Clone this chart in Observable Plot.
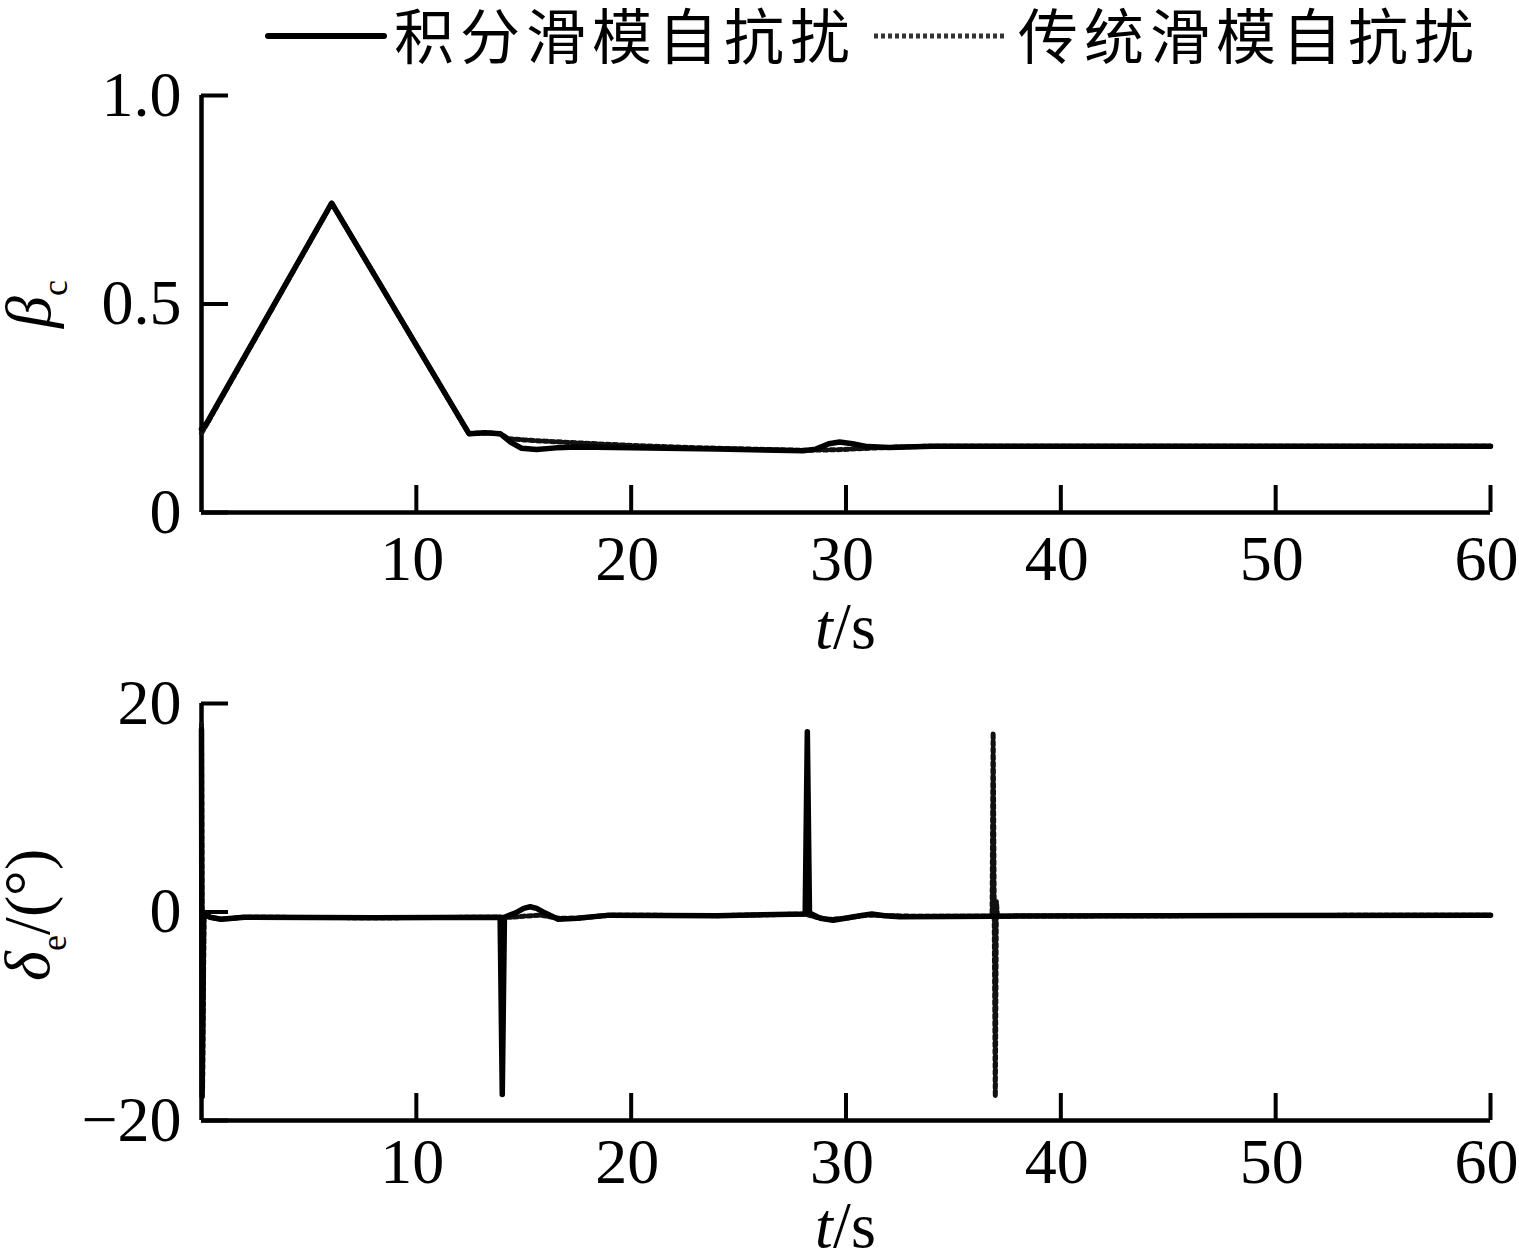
<!DOCTYPE html>
<html>
<head>
<meta charset="utf-8">
<script src="https://cdn.jsdelivr.net/npm/d3@7"></script>
<script src="https://cdn.jsdelivr.net/npm/@observablehq/plot@0.6"></script>
<style>
  @font-face {
    font-family: "LegendCJK";
    src: local("Noto Sans CJK SC Regular"), local("NotoSansCJKsc-Regular"), local("Noto Sans CJK SC");
    ascent-override: 92%;
    descent-override: 14%;
    line-gap-override: 0%;
  }
  @font-face {
    font-family: "TitleSerif";
    font-style: normal;
    src: local("Liberation Serif"), local("LiberationSerif"), local("Liberation Serif Regular");
    ascent-override: 72%;
    descent-override: 8%;
    line-gap-override: 0%;
  }
  @font-face {
    font-family: "TitleSerif";
    font-style: italic;
    src: local("Liberation Serif Italic"), local("LiberationSerif-Italic");
    ascent-override: 72%;
    descent-override: 8%;
    line-gap-override: 0%;
  }
  html, body { margin: 0; padding: 0; background: #fff; }
  #wrap { width: 1519px; height: 1254px; position: relative; overflow: hidden; }
  #legend { position: absolute; left: 0; top: 0; width: 1519px; height: 80px; z-index: 2;
            font-family: "LegendCJK", "Noto Sans CJK SC", sans-serif; }
  #legend span.t { position: absolute; top: 4px; font-size: 60px; line-height: 64px; letter-spacing: 6px; color: #000; white-space: nowrap; }
  #legend svg { position: absolute; }
  #p1 { position: absolute; left: 0; top: 50px; z-index: 1; }
  #p2 { position: absolute; left: 0; top: 660px; z-index: 1; }
  svg.plot { display: block; overflow: visible; }
</style>
</head>
<body>
<div id="wrap">
  <div id="legend"></div>
  <div id="p1"></div>
  <div id="p2"></div>
</div>
<script>
// ---- data ----
const seriesNames = ["积分滑模自抗扰", "传统滑模自抗扰"];

// top plot: beta_c
const tTopA = [0, 0.25, 6.06, 12.45, 13.2, 13.9, 14.4, 14.9, 15.6, 16.5, 17.5, 20, 24, 28, 28.6, 29.2, 29.7, 30.3, 31, 32, 34, 40, 50, 60];
const bTopA = [0.20, 0.215, 0.742, 0.189, 0.191, 0.189, 0.168, 0.154, 0.151, 0.155, 0.157, 0.155, 0.152, 0.148, 0.152, 0.165, 0.169, 0.165, 0.158, 0.156, 0.159, 0.159, 0.159, 0.159];
const tTopB = [0, 0.25, 6.06, 12.45, 13.2, 13.9, 14.3, 15, 16, 17.5, 19.5, 22, 24, 28, 29, 29.8, 30.6, 31.5, 32.5, 34, 40, 50, 60];
const bTopB = [0.19, 0.212, 0.742, 0.189, 0.191, 0.189, 0.177, 0.174, 0.171, 0.167, 0.162, 0.157, 0.154, 0.149, 0.15, 0.151, 0.153, 0.155, 0.157, 0.159, 0.159, 0.159, 0.159];

// bottom plot: delta_e
const tBotA = [0, 0.03, 0.1, 0.4, 0.9, 2, 8, 13.9, 14.0, 14.1, 14.6, 15.0, 15.3, 15.6, 16.0, 16.6, 17.5, 19, 24, 28.1, 28.2, 28.3, 28.8, 29.4, 30.1, 30.8, 31.2, 31.8, 32.5, 36.9, 45, 60];
const dBotA = [17.5, -17.7, -0.2, -0.5, -0.7, -0.5, -0.55, -0.5, -17.5, -0.5, -0.1, 0.35, 0.5, 0.35, -0.1, -0.7, -0.6, -0.3, -0.35, -0.2, 17.3, -0.1, -0.6, -0.8, -0.55, -0.3, -0.2, -0.35, -0.45, -0.4, -0.35, -0.3];
const tBotB = [0, 0.05, 0.12, 0.4, 0.9, 2, 8, 13.9, 14.4, 15, 15.8, 16.6, 17.5, 19, 24, 28.1, 28.6, 29.2, 30, 31, 33, 36.8, 36.85, 36.95, 37.0, 37.05, 45, 60];
const dBotB = [18, -17, 0, -0.5, -0.7, -0.5, -0.55, -0.5, -0.5, -0.4, -0.3, -0.6, -0.6, -0.3, -0.35, -0.2, -0.5, -0.7, -0.6, -0.3, -0.4, -0.4, 17.2, -17.7, 1, -0.4, -0.35, -0.3];

const xTicks = [10, 20, 30, 40, 50, 60];
const yTicksTop = [0, 0.5, 1.0];
const yTicksBot = [-20, 0, 20];

// ---- styles ----
const SERIF = "Liberation Serif, Times New Roman, serif";
const TITLE = "TitleSerif, Liberation Serif, serif";
const solidStyle = {stroke: "#000", strokeWidth: 5.5, curve: "linear", strokeLinejoin: "round"};
const dotStyle = {stroke: "#111", strokeWidth: 5, strokeDasharray: "4,3", curve: "linear"};

const zip = (ts, vs) => ts.map((t, i) => ({t, v: vs[i]}));

// ---- legend ----
const leg = d3.select("#legend");
const sw1 = leg.append("svg").attr("width", 124).attr("height", 20).style("left", "264px").style("top", "26px");
sw1.append("line").attr("x1", 4).attr("x2", 120).attr("y1", 10).attr("y2", 10).attr("stroke", "#000").attr("stroke-width", 6).attr("stroke-linecap", "round");
leg.append("span").attr("class", "t").style("left", "394px").text(seriesNames[0]);
const sw2 = leg.append("svg").attr("width", 134).attr("height", 20).style("left", "872px").style("top", "26px");
sw2.append("line").attr("x1", 2).attr("x2", 132).attr("y1", 10).attr("y2", 10).attr("stroke", "#333").attr("stroke-width", 5).attr("stroke-dasharray", "4,3");
leg.append("span").attr("class", "t").style("left", "1018px").text(seriesNames[1]);

// ---- top plot ----
const p1 = Plot.plot({
  width: 1519, height: 610,
  marginLeft: 201, marginRight: 29, marginTop: 45, marginBottom: 148,
  style: {fontFamily: SERIF, background: "transparent", color: "#000", overflow: "visible"},
  className: "plot",
  x: {domain: [0, 60], label: null},
  y: {domain: [0, 1], label: null},
  marks: [
    Plot.axisX({ticks: xTicks, tickSize: -27, strokeWidth: 4, tickFormat: () => "", label: null}),
    Plot.axisX({ticks: xTicks, tickSize: 0, tickPadding: 22, fontSize: 64, dx: -4, label: null}),
    Plot.axisY({ticks: yTicksTop, tickSize: -27, strokeWidth: 4, tickFormat: () => "", label: null}),
    Plot.axisY({ticks: yTicksTop, tickSize: 0, tickPadding: 20, fontSize: 64, label: null,
      tickFormat: d => d === 0 ? "0" : d.toFixed(1)}),
    Plot.ruleY([0], {stroke: "#000", strokeWidth: 4.5}),
    Plot.ruleX([0], {stroke: "#000", strokeWidth: 4.5}),
    Plot.line(zip(tTopB, bTopB), {x: "t", y: "v", ...dotStyle}),
    Plot.line(zip(tTopA, bTopA), {x: "t", y: "v", ...solidStyle})
  ]
});
document.getElementById("p1").append(p1);

// ---- bottom plot ----
const p2 = Plot.plot({
  width: 1519, height: 594,
  marginLeft: 201, marginRight: 29, marginTop: 43, marginBottom: 134,
  style: {fontFamily: SERIF, background: "transparent", color: "#000", overflow: "visible"},
  className: "plot",
  x: {domain: [0, 60], label: null},
  y: {domain: [-20, 20], label: null},
  marks: [
    Plot.axisX({ticks: xTicks, tickSize: -27, strokeWidth: 4, tickFormat: () => "", label: null}),
    Plot.axisX({ticks: xTicks, tickSize: 0, tickPadding: 17, fontSize: 64, dx: -4, label: null}),
    Plot.axisY({ticks: yTicksBot, tickSize: -27, strokeWidth: 4, tickFormat: () => "", label: null}),
    Plot.axisY({ticks: yTicksBot, tickSize: 0, tickPadding: 20, fontSize: 64, label: null,
      tickFormat: d => d < 0 ? "\u2212" + Math.abs(d) : String(d)}),
    Plot.ruleY([-20], {stroke: "#000", strokeWidth: 4.5}),
    Plot.ruleX([0], {stroke: "#000", strokeWidth: 4.5}),
    Plot.line(zip(tBotB, dBotB), {x: "t", y: "v", ...dotStyle}),
    Plot.line(zip(tBotA, dBotA), {x: "t", y: "v", ...solidStyle})
  ]
});
document.getElementById("p2").append(p2);

// ---- axis titles with sub/italic parts ----
function xTitle(svg, x, y) {
  const t = d3.select(svg).append("text")
    .attr("x", x).attr("y", y).attr("text-anchor", "middle")
    .attr("font-family", TITLE).attr("font-size", 64).attr("fill", "#000");
  t.append("tspan").attr("font-style", "italic").text("t");
  t.append("tspan").text("/s");
}
xTitle(p1, 845, 598);
xTitle(p2, 845, 587);

function yTitle(svg, x, y, main, sub, rest) {
  const t = d3.select(svg).append("text")
    .attr("transform", `translate(${x},${y}) rotate(-90)`).attr("text-anchor", "middle")
    .attr("font-family", TITLE).attr("font-size", 64).attr("fill", "#000");
  t.append("tspan").attr("font-style", "italic").text(main);
  t.append("tspan").attr("font-size", 36).attr("dy", 17).text(sub);
  if (rest) t.append("tspan").attr("dy", -17).text(rest);
}
yTitle(p1, 50, 254, "β", "c", null);
yTitle(p2, 49, 255, "δ", "e", "/(°)");
</script>
</body>
</html>
